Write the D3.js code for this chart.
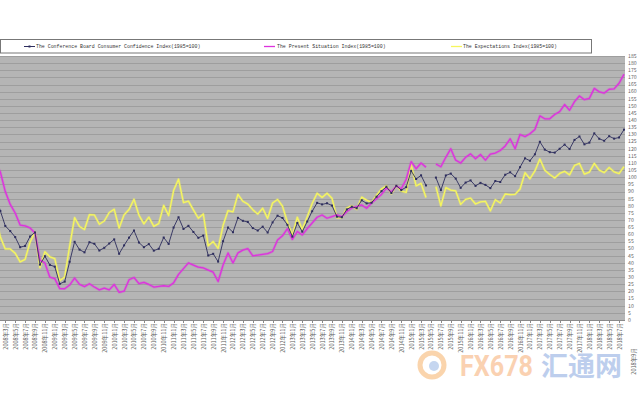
<!DOCTYPE html>
<html><head><meta charset="utf-8">
<script src="https://cdn.jsdelivr.net/npm/d3@7"></script>
<style>html,body{margin:0;padding:0;background:#fff;} svg{display:block}</style>
</head><body>
<svg id="c" width="640" height="400"></svg>
<script>
// Monthly data, Jan 2008 .. Aug 2018
const firstYear = 2008, firstMonth = 1;
const cci = [87.9,
 76.4,65.9,62.3,58.1,51.0,51.9,58.5,61.4,38.8,44.7,38.6,
 37.4,25.3,26.9,40.8,54.8,49.3,47.4,54.5,53.4,48.7,50.6,53.6,
 56.5,46.4,52.3,57.7,62.7,54.3,51.0,53.2,48.6,49.9,57.8,53.3,
 64.8,72.0,63.8,66.0,61.7,57.6,59.2,45.2,46.4,40.9,55.2,64.8,
 61.5,71.6,69.5,68.7,64.4,62.7,65.4,61.3,68.4,73.1,71.5,66.7,
 58.4,68.0,61.9,69.0,76.2,82.1,81.0,81.8,80.2,72.4,72.0,77.5,
 79.4,78.3,83.9,81.7,82.2,86.4,90.3,93.4,89.0,94.1,91.0,93.1,
 104.5,98.8,101.4,94.3,null,99.8,91.0,101.3,102.6,99.1,92.6,96.3,
 97.8,94.0,96.1,94.7,92.4,97.4,96.7,101.8,103.5,100.8,107.1,113.3,
 111.6,116.1,124.9,119.4,117.6,117.3,120.0,122.9,119.8,126.2,128.6,123.1,
 124.3,130.8,127.0,125.6,128.8,127.1,127.9,133.4];
const present = [110,
 103.7,90,81,75,66.5,66,64.5,61,42,40,30,
 29,22,21.9,24.5,29.4,25,23.4,25.4,23.1,21.1,22.4,21.1,
 24.9,19.4,20.2,28.2,29.8,25.5,26.4,24.9,23.1,23.5,24,23.5,
 26,32,36,40,38.5,37,36.5,35,33.5,27,38.5,47,
 40,47,49,50,45,45.5,46,46.5,48,56,59,64,
 56.5,62,59.6,64,68,72,73.6,71.3,72.5,73.6,72.4,76,
 78.5,79.5,80.6,78.3,82,85,88,92.5,89.8,94,92,98.6,
 111,106,110,107,null,109.3,107.4,114,120,112,110,114,
 116.4,113,116,112,116.2,117,118.8,122,127,120,130,128.5,
 130.5,133.5,143,141,141,144,146,151,147,153,157,154.4,
 155.3,162.3,159.9,159,161.7,162,165.9,172.2];
const expectations = [73.2,
 58.2,49.8,49.8,46.8,40.7,42.5,54.5,61.7,36.7,47.8,44.3,
 43,27.5,30.2,51.7,71.7,65.5,63.4,73.9,73.6,67.1,69.4,75.3,
 77.6,64.4,73.7,77.4,84.6,73.5,67.4,72.1,65.6,67.5,80.3,73.2,
 90.7,98.7,82.3,83.3,77.2,71.3,74.3,52,55,50.2,66.3,76.7,
 75.8,88,83.2,81.2,77.3,74.2,78.3,71.2,82,84.5,79.8,68.5,
 59.7,72,63.4,72.3,81.7,88.8,85.9,88.8,85.3,71.6,71.7,78.5,
 80,77.5,86.1,84,82.3,87.3,91.8,94,88.5,94.2,90.3,89.4,
 109,94,95.7,85.8,null,93.5,80,92.8,91,90.5,81,84.5,
 85.4,81.3,82.8,83.2,76.5,84.3,82,88.3,87.8,88,91.8,103.2,
 99,104.5,112.8,105,102,99.5,102.7,104.2,101.7,108.3,109.7,102.2,
 103.6,109.8,105,103.3,106.9,103.8,102.6,107.5];
const seriesNames = ["The Conference Board Consumer Confidence Index(1985=100)",
  "The Present Situation Index(1985=100)", "The Expectations Index(1985=100)"];
const seriesColors = ["#2e2e5e", "#dd33dd", "#f6f65e"];
const yTicks = d3.range(0, 186, 5);
const extraLabel = "2018年9月";

const months = cci.map((d, i) => {
  const m = firstMonth - 1 + i;
  return `${firstYear + Math.floor(m / 12)}年${m % 12 + 1}月`;
});

const svg = d3.select("#c");
const plot = {left: 0, right: 625, top: 56, bottom: 320};
const x = d3.scaleLinear().domain([0, months.length - 1]).range([-4.6, 624]);
const y = d3.scaleLinear().domain([0, 185]).range([plot.bottom, plot.top]);

svg.append("defs").append("clipPath").attr("id", "pc")
  .append("rect").attr("x", plot.left).attr("y", plot.top - 5)
  .attr("width", plot.right - plot.left).attr("height", plot.bottom - plot.top + 5);

svg.append("rect").attr("x", plot.left).attr("y", plot.top)
  .attr("width", plot.right - plot.left).attr("height", plot.bottom - plot.top)
  .attr("fill", "#b5b5b5");

// gridlines
svg.append("g").selectAll("line").data(yTicks.slice(1)).join("line")
  .attr("x1", plot.left).attr("x2", plot.right)
  .attr("y1", d => Math.round(y(d)) + 0.5).attr("y2", d => Math.round(y(d)) + 0.5)
  .attr("stroke", "#9e9e9e").attr("stroke-width", 1);

// x axis line and ticks
svg.append("line").attr("x1", plot.left).attr("x2", plot.right)
  .attr("y1", plot.bottom + 0.5).attr("y2", plot.bottom + 0.5).attr("stroke", "#8a8a8a");
svg.append("g").selectAll("line").data(months.map((m, i) => i).filter(i => i % 2 === 0)).join("line")
  .attr("x1", d => Math.round(x(d)) + 0.5).attr("x2", d => Math.round(x(d)) + 0.5)
  .attr("y1", plot.bottom).attr("y2", plot.bottom + 3).attr("stroke", "#8a8a8a");

// y labels (right side)
svg.append("g").selectAll("text").data(yTicks).join("text")
  .attr("x", 628).attr("y", d => y(d)).attr("dy", "0.35em")
  .attr("font-family", "'Noto Sans CJK SC', sans-serif").attr("font-size", 5.2)
  .attr("fill", "#666").text(d => d);

// x labels
const xl = svg.append("g").attr("font-family", "'Noto Sans CJK SC', sans-serif")
  .attr("font-size", 5.6).attr("fill", "#5a5a5a");
months.forEach((m, i) => {
  if (i % 2 !== 0) return;
  const px = x(i);
  if (px < 0) return;
  xl.append("text").attr("transform", `translate(${px + 0.5},323) rotate(-90)`)
    .attr("text-anchor", "end").attr("dy", "0.35em").text(m);
});
xl.append("text").attr("transform", `translate(${x(months.length) + 5},348) rotate(-90)`)
  .attr("text-anchor", "end").attr("dy", "0.35em").text(extraLabel);

// lines
const line = d3.line().defined(d => d != null).x((d, i) => x(i)).y(d => y(d));
const lg = svg.append("g").attr("clip-path", "url(#pc)").attr("fill", "none")
  .attr("stroke-linejoin", "round");
const drawLine = (data, color, w, halo) => {
  if (halo) lg.append("path").datum(data).attr("d", line).attr("stroke", color).attr("stroke-opacity", 0.3).attr("stroke-width", w + 1.4);
  lg.append("path").datum(data).attr("d", line).attr("stroke", color).attr("stroke-width", w);
};
drawLine(expectations, seriesColors[2], 1.3, true);
drawLine(present, seriesColors[1], 1.3, true);
drawLine(cci, seriesColors[0], 0.9, false);
lg.append("g").selectAll("rect").data(cci.map((v, i) => ({v, i})).filter(d => d.v != null)).join("rect")
  .attr("x", d => x(d.i) - 1).attr("y", d => y(d.v) - 1).attr("width", 2).attr("height", 2)
  .attr("fill", seriesColors[0]);

// legend
svg.append("rect").attr("x", 0.5).attr("y", 39.5).attr("width", 591).attr("height", 13.5)
  .attr("fill", "#fff").attr("stroke", "#777");
const legX = [{s: 24, t: 36}, {s: 264, t: 277}, {s: 451, t: 463}];
seriesNames.forEach((n, k) => {
  svg.append("line").attr("x1", legX[k].s).attr("x2", legX[k].s + 11).attr("y1", 46.5).attr("y2", 46.5)
    .attr("stroke", seriesColors[k]).attr("stroke-width", k === 0 ? 1 : 1.3);
  if (k === 0) svg.append("rect").attr("x", legX[k].s + 4.5).attr("y", 45.5).attr("width", 2).attr("height", 2).attr("fill", seriesColors[0]);
  svg.append("text").attr("x", legX[k].t).attr("y", 46.5).attr("dy", "0.35em")
    .attr("font-family", "'Liberation Mono', monospace").attr("font-size", 4.9)
    .attr("fill", "#333").text(n);
});

// watermark
const wm = svg.append("g").attr("opacity", 0.45);
wm.append("circle").attr("cx", 432).attr("cy", 365).attr("r", 12).attr("fill", "none")
  .attr("stroke", "#f4a24a").attr("stroke-width", 5);
wm.append("circle").attr("cx", 434).attr("cy", 366).attr("r", 5).attr("fill", "#7fa6de");
wm.append("text").attr("x", 460).attr("y", 376).attr("font-family", "Roboto, sans-serif")
  .attr("font-weight", "bold").attr("font-size", 30).attr("fill", "#f59a55")
  .attr("textLength", 73).attr("lengthAdjust", "spacingAndGlyphs").text("FX678");
wm.append("text").attr("x", 541).attr("y", 376).attr("font-family", "'Noto Sans CJK SC', sans-serif")
  .attr("font-weight", "bold").attr("font-size", 27).attr("fill", "#6f95d8")
  .attr("textLength", 81).attr("lengthAdjust", "spacingAndGlyphs").text("汇通网");
</script>
</body></html>
